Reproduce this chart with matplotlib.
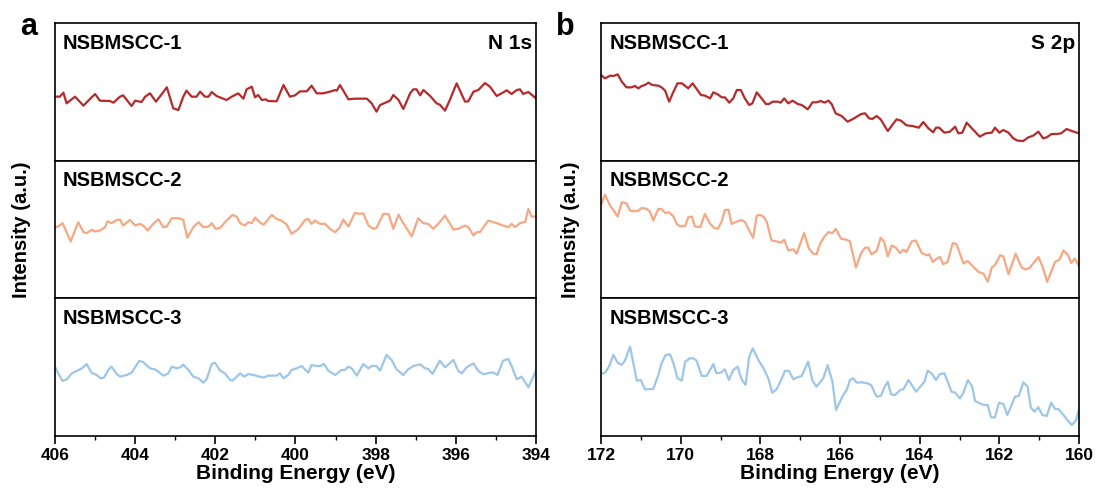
import matplotlib
matplotlib.use("Agg")
import matplotlib.pyplot as plt
from matplotlib.ticker import MultipleLocator

plt.rcParams['font.family'] = ['Liberation Sans', 'DejaVu Sans']
plt.rcParams['font.weight'] = 'bold'

# ---------------- Panel a : N 1s ----------------
a1_E = [406.00,405.88,405.79,405.71,405.50,405.29,405.17,405.00,404.88,404.63,
        404.54,404.38,404.30,404.09,404.00,403.84,403.75,403.63,403.48,403.21,
        403.05,402.92,402.80,402.72,402.59,402.47,402.38,402.26,402.17,402.09,
        401.97,401.72,401.59,401.43,401.30,401.22,401.09,401.01,400.93,400.84,
        400.74,400.68,400.47,400.30,400.14,400.01,399.89,399.72,399.60,399.47,
        399.31,399.14,399.01,398.97,398.89,398.68,398.52,398.22,398.10,397.98,
        397.89,397.64,397.56,397.43,397.31,397.14,397.06,396.98,396.89,396.81,
        396.64,396.48,396.40,396.27,396.15,395.98,395.77,395.69,395.56,395.44,
        395.27,395.15,394.98,394.86,394.73,394.61,394.48,394.40,394.32,394.19,
        394.11,394.00]
a1_I = [193,193,205,173,193,166,181,201,181,180,175,193,197,165,181,177,193,203,178,221,
        158,153,193,211,193,193,208,193,193,207,195,183,193,203,187,215,223,191,198,183,
        185,180,179,228,193,197,209,209,226,203,203,208,213,211,228,185,187,187,173,148,
        168,181,198,183,156,203,215,215,197,213,195,173,169,151,183,233,178,179,208,213,
        234,223,195,203,212,201,213,215,201,207,199,188]

a2_E = [406.00,405.92,405.81,405.61,405.42,405.29,405.21,405.09,405.00,404.88,
        404.75,404.69,404.59,404.46,404.38,404.30,404.13,404.00,403.88,403.80,
        403.69,403.55,403.42,403.30,403.21,403.09,402.92,402.80,402.70,402.55,
        402.42,402.30,402.17,402.09,401.99,401.88,401.72,401.57,401.47,401.38,
        401.26,401.18,401.09,401.01,400.89,400.80,400.59,400.47,400.35,400.22,
        400.10,399.93,399.76,399.68,399.60,399.51,399.39,399.26,399.14,399.01,
        398.89,398.81,398.68,398.52,398.39,398.31,398.18,398.06,397.98,397.81,
        397.68,397.56,397.43,397.31,397.10,396.94,396.81,396.69,396.56,396.44,
        396.27,396.06,395.94,395.77,395.69,395.56,395.48,395.40,395.19,394.98,
        394.82,394.69,394.61,394.52,394.40,394.27,394.19,394.11,394.00]
a2_I = [214,216,226,171,229,199,196,206,201,204,214,232,226,236,237,219,236,219,224,219,
        204,224,238,214,216,241,241,236,182,214,229,214,216,226,209,212,234,251,246,226,
        219,229,226,243,229,221,251,239,234,222,194,208,236,239,224,234,224,224,209,199,
        214,237,216,257,254,256,219,209,212,254,254,209,252,226,186,241,226,224,209,224,
        249,207,209,219,214,189,199,199,234,226,219,214,224,214,226,230,269,246,246]

a3_E = [406.00,405.92,405.81,405.71,405.58,405.46,405.33,405.21,405.09,404.96,
        404.86,404.78,404.64,404.59,404.46,404.38,404.21,404.09,403.90,403.80,
        403.63,403.51,403.42,403.30,403.17,403.09,402.96,402.88,402.80,402.67,
        402.55,402.42,402.30,402.22,402.09,402.01,401.88,401.76,401.63,401.57,
        401.38,401.28,401.18,401.05,400.80,400.68,400.47,400.39,400.30,400.18,
        400.10,399.97,399.85,399.68,399.60,399.47,399.39,399.29,399.18,399.01,
        398.85,398.77,398.68,398.60,398.47,398.31,398.18,398.10,397.98,397.89,
        397.73,397.60,397.48,397.31,397.19,397.06,396.89,396.77,396.69,396.58,
        396.40,396.27,396.06,395.94,395.85,395.73,395.56,395.44,395.31,395.15,
        395.06,394.96,394.82,394.69,394.61,394.48,394.36,394.19,394.00]
a3_I = [208,188,165,170,188,195,203,216,190,183,173,175,203,208,186,178,183,190,225,222,
        203,200,193,181,188,208,203,206,214,198,178,173,160,170,216,220,196,188,168,166,
        188,178,186,183,175,181,181,188,173,183,198,203,210,190,213,210,210,216,196,183,
        198,198,208,203,181,216,203,210,210,196,243,228,200,183,200,210,215,203,201,186,
        226,206,228,195,188,206,218,195,185,190,190,183,226,231,210,170,178,146,196]

# ---------------- Panel b : S 2p ----------------
b1_E = [172.00,171.90,171.77,171.69,171.58,171.48,171.36,171.23,171.15,171.06,
        170.98,170.90,170.81,170.71,170.56,170.48,170.39,170.29,170.18,170.08,
        169.97,169.81,169.70,169.49,169.39,169.26,169.18,169.07,168.97,168.89,
        168.78,168.68,168.59,168.49,168.39,168.28,168.20,168.09,167.97,167.86,
        167.78,167.69,167.56,167.49,167.40,167.30,167.19,167.06,166.96,166.81,
        166.69,166.59,166.48,166.39,166.29,166.21,166.11,165.96,165.81,165.66,
        165.47,165.37,165.27,165.19,165.08,164.98,164.80,164.58,164.47,164.33,
        164.18,164.02,163.91,163.78,163.66,163.59,163.51,163.38,163.24,163.11,
        163.03,162.93,162.82,162.69,162.49,162.34,162.19,162.11,162.00,161.90,
        161.77,161.65,161.54,161.40,161.27,161.15,161.02,160.90,160.81,160.69,
        160.56,160.45,160.31,160.18,160.00]
b1_I = [258,248,256,255,260,238,221,221,225,218,225,228,235,228,226,221,211,178,208,233,
        233,218,233,198,196,188,206,200,191,191,175,188,213,213,188,168,173,206,188,171,
        171,178,178,175,188,173,181,171,168,155,176,176,180,175,181,171,143,135,118,127,
        141,143,128,126,135,125,90,125,121,107,105,100,117,98,86,100,100,85,88,103,
        83,85,115,98,73,83,85,100,85,93,85,68,61,60,71,76,88,68,71,81,
        81,83,96,90,83]

b2_E = [172.00,171.90,171.77,171.69,171.58,171.48,171.36,171.27,171.19,171.06,
        170.98,170.85,170.77,170.69,170.56,170.48,170.39,170.29,170.18,170.10,
        170.02,169.89,169.81,169.72,169.64,169.51,169.39,169.26,169.15,169.07,
        168.97,168.89,168.80,168.72,168.59,168.47,168.38,168.28,168.18,168.09,
        168.01,167.92,167.84,167.72,167.59,167.48,167.40,167.30,167.17,167.09,
        166.90,166.78,166.67,166.59,166.50,166.39,166.29,166.19,166.11,165.97,
        165.83,165.75,165.60,165.47,165.37,165.29,165.21,165.08,164.98,164.89,
        164.80,164.70,164.60,164.49,164.41,164.33,164.20,164.10,163.95,163.82,
        163.76,163.67,163.57,163.49,163.41,163.30,163.17,163.07,162.90,162.80,
        162.69,162.53,162.40,162.29,162.19,162.11,161.98,161.90,161.77,161.59,
        161.44,161.34,161.23,161.10,161.02,160.92,160.80,160.70,160.60,160.49,
        160.39,160.27,160.20,160.10,160.00]
b2_I = [282,312,279,266,246,289,286,264,262,264,272,269,261,234,269,269,257,259,246,224,
        217,217,244,246,216,214,254,224,211,209,231,266,267,224,231,236,229,204,182,249,
        251,246,231,174,171,167,176,144,147,134,196,149,134,132,164,186,199,196,209,179,
        176,171,92,136,152,152,132,142,182,169,126,159,152,136,146,139,171,174,136,129,
        132,109,119,124,102,109,166,162,104,112,99,79,74,49,92,99,129,126,72,134,
        92,86,92,112,124,96,49,79,109,116,144,129,106,119,96]

b3_E = [172.00,171.90,171.80,171.69,171.58,171.48,171.40,171.27,171.10,171.00,
        170.90,170.69,170.56,170.48,170.38,170.27,170.18,170.08,169.97,169.89,
        169.77,169.68,169.60,169.47,169.35,169.18,169.10,168.99,168.89,168.79,
        168.68,168.57,168.47,168.37,168.28,168.19,168.05,167.92,167.80,167.70,
        167.59,167.46,167.38,167.28,167.17,167.09,166.96,166.80,166.69,166.59,
        166.42,166.31,166.19,166.10,165.92,165.83,165.75,165.67,165.58,165.46,
        165.31,165.22,165.08,164.97,164.89,164.80,164.72,164.62,164.49,164.41,
        164.28,164.09,163.88,163.80,163.70,163.59,163.49,163.38,163.28,163.20,
        163.11,162.99,162.90,162.79,162.68,162.61,162.46,162.38,162.29,162.21,
        162.11,162.01,161.90,161.80,161.69,161.61,161.51,161.40,161.29,161.21,
        161.12,161.02,160.92,160.81,160.70,160.60,160.52,160.39,160.28,160.18,
        160.08,160.00]
b3_I = [186,190,208,243,220,213,226,268,166,168,140,141,183,218,243,245,218,173,166,223,
        233,233,226,180,180,216,188,190,200,168,198,208,170,153,238,263,228,203,173,130,
        140,173,196,195,170,175,180,223,166,148,173,213,163,78,123,138,168,173,160,161,
        158,153,118,121,145,163,125,123,138,140,168,133,163,196,188,168,186,188,158,133,
        130,113,130,168,148,105,96,93,93,56,56,100,96,63,93,118,120,161,148,86,
        73,86,63,60,100,81,81,63,46,33,46,80]

sample_names = ["NSBMSCC-1", "NSBMSCC-2", "NSBMSCC-3"]
colors = ["#B52A2A", "#F6A883", "#9DC6E8"]
panel_info = [
    dict(letter="a", core="N 1s", xlim=(406, 394), ticks=[406, 404, 402, 400, 398, 396, 394],
         series=[(a1_E, a1_I), (a2_E, a2_I), (a3_E, a3_I)]),
    dict(letter="b", core="S 2p", xlim=(172, 160), ticks=[172, 170, 168, 166, 164, 162, 160],
         series=[(b1_E, b1_I), (b2_E, b2_I), (b3_E, b3_I)]),
]

W, H = 1097, 488
fig = plt.figure(figsize=(W / 100, H / 100), dpi=100)

panel_x = [(55, 536), (601, 1079)]
row_y = [23, 161, 298, 436]
ylab_x = [22, 570]
letter_x = [20, 556]

for p, info in enumerate(panel_info):
    x0, x1 = panel_x[p]
    for r in range(3):
        top, bot = row_y[r], row_y[r + 1]
        ax = fig.add_axes([x0 / W, 1 - bot / H, (x1 - x0) / W, (bot - top) / H])
        E, I = info["series"][r]
        ax.plot(E, I, color=colors[r], lw=1.6, solid_joinstyle='round')
        ax.set_xlim(*info["xlim"])
        ax.set_ylim(0, 414)
        ax.set_yticks([])
        for s in ax.spines.values():
            s.set_linewidth(1.2)
        ax.text(0.016 if p == 0 else 0.019, 0.855, sample_names[r], transform=ax.transAxes,
                fontsize=14.5, fontweight='bold', ha='left', va='center')
        if r == 0:
            ax.text(0.992, 0.855, info["core"], transform=ax.transAxes,
                    fontsize=15, fontweight='bold', ha='right', va='center')
        if r < 2:
            ax.set_xticks([])
            ax.tick_params(axis='x', which='both', bottom=False, labelbottom=False)
        else:
            ax.set_xticks(info["ticks"])
            ax.xaxis.set_minor_locator(MultipleLocator(1))
            ax.tick_params(axis='x', which='major', direction='out', length=5.5, width=1.2,
                           labelsize=12.5, pad=3)
            ax.tick_params(axis='x', which='minor', direction='out', length=3, width=1.0)
            for lab in ax.get_xticklabels():
                lab.set_fontweight('bold')
            ax.set_xlabel("Binding Energy (eV)", fontsize=15, fontweight='bold', labelpad=1)
    fig.text(ylab_x[p] / W, 1 - 230 / H, "Intensity (a.u.)", rotation=90, fontsize=14.5,
             fontweight='bold', ha='center', va='center')
    fig.text(letter_x[p] / W, 1 - 27 / H, info["letter"], fontsize=22, fontweight='bold',
             ha='left', va='center')

fig.savefig("out.png", dpi=100)
